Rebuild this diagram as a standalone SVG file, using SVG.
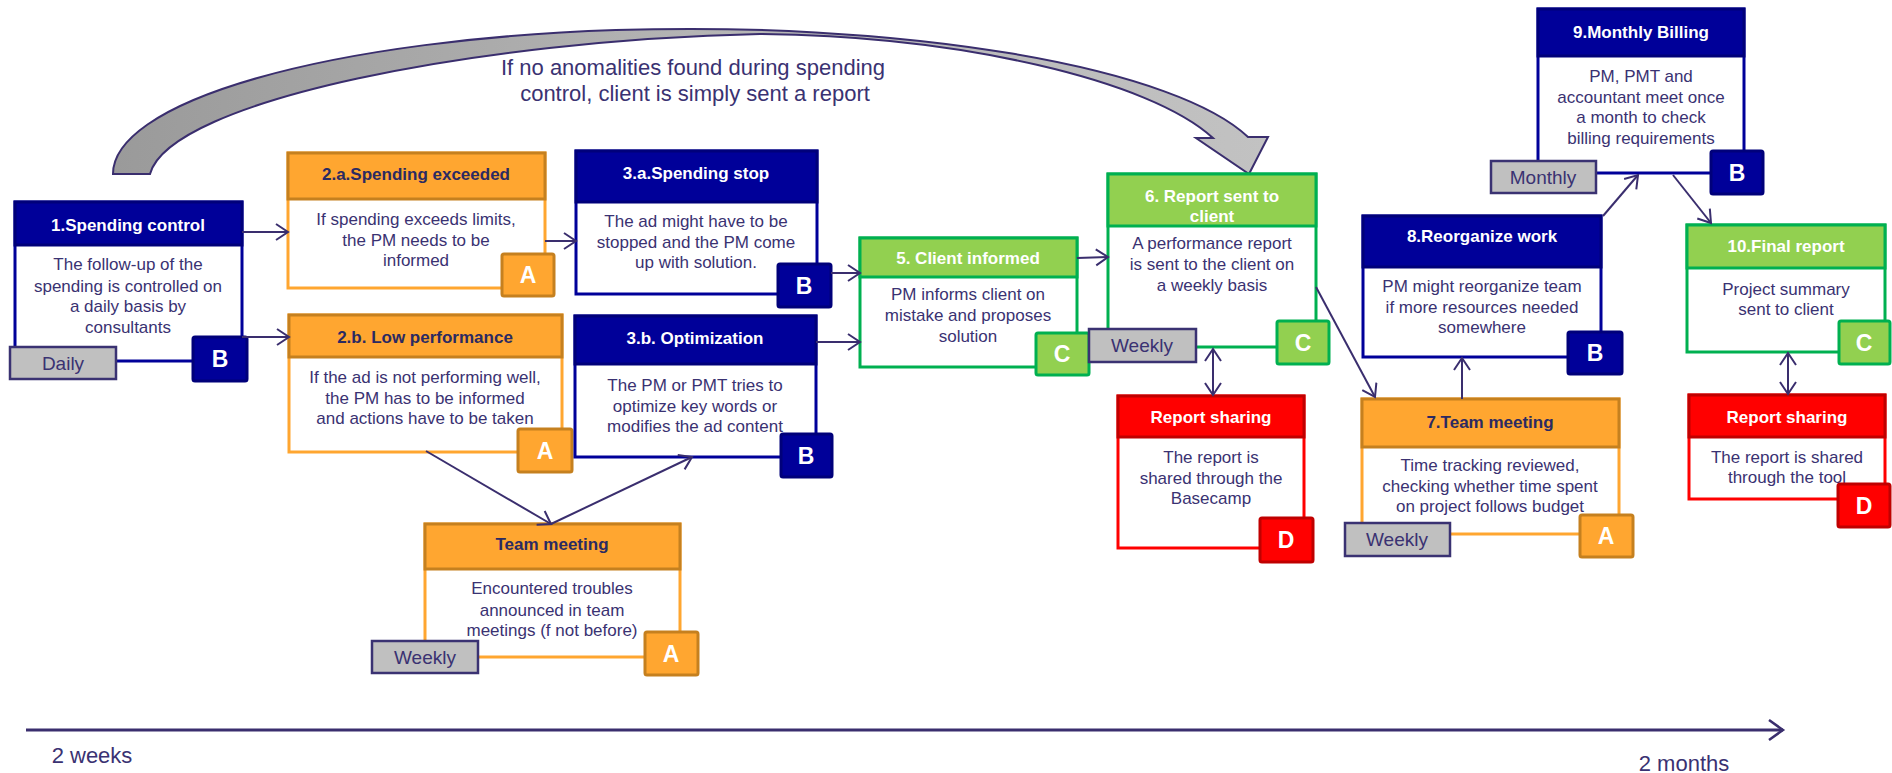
<svg xmlns="http://www.w3.org/2000/svg" width="1892" height="773" viewBox="0 0 1892 773">
  <defs>
    <style>
      text{font-family:"Liberation Sans",Arial,sans-serif;text-anchor:middle}
      .body{fill:#fff;stroke-width:3}
      .hdr{stroke-width:3}
      .t{font-size:17px;fill:#3a3272}
      .h{font-size:17px;font-weight:bold;fill:#fff}
      .bd{stroke-width:3}
      .bl{font-size:23px;font-weight:bold;fill:#fff}
      .fq{fill:#c0c0c0;stroke:#3a3272;stroke-width:2.5}
      .ft{font-size:19px;fill:#3a3272}
      .navy .body{stroke:#000099}
      .navy .hdr,.navy .bd{fill:#000099;stroke:#00007a}
      .orange .body{stroke:#ffa630}
      .orange .hdr,.orange .bd{fill:#ffa630;stroke:#c5801f}
      .orange .h{fill:#2b2a62}
      .green .body{stroke:#00b050}
      .green .hdr,.green .bd{fill:#92d050;stroke:#00b050}
      .red .body{stroke:#ff0000}
      .red .hdr,.red .bd{fill:#ff0000;stroke:#c00000}
      .conn line,.conn path{stroke:#3a2e6e;stroke-width:2;fill:none}
      .lbl{font-size:22px;fill:#3a3272}
    </style>
    <marker id="arr" markerUnits="userSpaceOnUse" markerWidth="16" markerHeight="20" refX="13" refY="9" orient="auto-start-reverse">
      <path d="M1,1 L13,9 L1,17" fill="none" stroke="#3a2e6e" stroke-width="2"/>
    </marker>
    <marker id="arrBig" markerUnits="userSpaceOnUse" markerWidth="18" markerHeight="24" refX="15" refY="11" orient="auto">
      <path d="M1,1 L15,11 L1,21" fill="none" stroke="#3a2e6e" stroke-width="2.5"/>
    </marker>
    <linearGradient id="gArc" x1="0" y1="0" x2="1" y2="0">
      <stop offset="0" stop-color="#9a9a9a"/>
      <stop offset="0.5" stop-color="#b4b4b4"/>
      <stop offset="1" stop-color="#c2c2c2"/>
    </linearGradient>
  </defs>

  <!-- curved bypass arrow from spending control to the client report -->
  <g id="bypass">
    <path d="M113,174 A577,145 0 0 1 1248,137 L1268,137 L1249,174 L1196,138 L1213,138 C1150,80 960,36 760,34 C480,40 170,100 150,174 Z" fill="url(#gArc)" stroke="#3a2e6e" stroke-width="2"/>
    <text class="lbl" x="693" y="75">If no anomalities found during spending</text>
    <text class="lbl" x="695" y="101">control, client is simply sent a report</text>
  </g>

  <!-- 1. Spending control -->
  <g id="n1" class="navy">
    <rect class="body" x="15" y="202" width="227" height="159"/>
    <rect class="hdr" x="15" y="202" width="227" height="43"/>
    <text class="h" x="128" y="231">1.Spending control</text>
    <text class="t" x="128" y="270">The follow-up of the</text>
    <text class="t" x="128" y="292">spending is controlled on</text>
    <text class="t" x="128" y="312">a daily basis by</text>
    <text class="t" x="128" y="333">consultants</text>
    <rect class="fq" x="10" y="347" width="106" height="32"/>
    <text class="ft" x="63" y="370">Daily</text>
    <rect class="bd" x="193" y="337" width="54" height="44" rx="2"/>
    <text class="bl" x="220" y="367">B</text>
  </g>

  <!-- 2.a Spending exceeded -->
  <g id="n2a" class="orange">
    <rect class="body" x="288" y="153" width="257" height="135"/>
    <rect class="hdr" x="288" y="153" width="257" height="46"/>
    <text class="h" x="416" y="180">2.a.Spending exceeded</text>
    <text class="t" x="416" y="225">If spending exceeds limits,</text>
    <text class="t" x="416" y="246">the PM needs to be</text>
    <text class="t" x="416" y="266">informed</text>
    <rect class="bd" x="502" y="254" width="52" height="42" rx="2"/>
    <text class="bl" x="528" y="283">A</text>
  </g>

  <!-- 2.b Low performance -->
  <g id="n2b" class="orange">
    <rect class="body" x="289" y="315" width="273" height="137"/>
    <rect class="hdr" x="289" y="315" width="273" height="42"/>
    <text class="h" x="425" y="343">2.b. Low performance</text>
    <text class="t" x="425" y="383">If the ad is not performing well,</text>
    <text class="t" x="425" y="404">the PM has to be informed</text>
    <text class="t" x="425" y="424">and actions have to be taken</text>
    <rect class="bd" x="518" y="429" width="54" height="43" rx="2"/>
    <text class="bl" x="545" y="459">A</text>
  </g>

  <!-- Team meeting (weekly) -->
  <g id="nTeam1" class="orange">
    <rect class="body" x="425" y="524" width="255" height="133"/>
    <rect class="hdr" x="425" y="524" width="255" height="45"/>
    <text class="h" x="552" y="550">Team meeting</text>
    <text class="t" x="552" y="594">Encountered troubles</text>
    <text class="t" x="552" y="616">announced in team</text>
    <text class="t" x="552" y="636">meetings (f not before)</text>
    <rect class="fq" x="372" y="641" width="106" height="32"/>
    <text class="ft" x="425" y="664">Weekly</text>
    <rect class="bd" x="645" y="632" width="53" height="43" rx="2"/>
    <text class="bl" x="671" y="662">A</text>
  </g>

  <!-- 3.a Spending stop -->
  <g id="n3a" class="navy">
    <rect class="body" x="576" y="151" width="241" height="143"/>
    <rect class="hdr" x="576" y="151" width="241" height="51"/>
    <text class="h" x="696" y="179">3.a.Spending stop</text>
    <text class="t" x="696" y="227">The ad might have to be</text>
    <text class="t" x="696" y="248">stopped and the PM come</text>
    <text class="t" x="696" y="268">up with solution.</text>
    <rect class="bd" x="778" y="264" width="53" height="43" rx="2"/>
    <text class="bl" x="804" y="294">B</text>
  </g>

  <!-- 3.b Optimization -->
  <g id="n3b" class="navy">
    <rect class="body" x="575" y="316" width="241" height="141"/>
    <rect class="hdr" x="575" y="316" width="241" height="48"/>
    <text class="h" x="695" y="344">3.b. Optimization</text>
    <text class="t" x="695" y="391">The PM or PMT tries to</text>
    <text class="t" x="695" y="412">optimize key words or</text>
    <text class="t" x="695" y="432">modifies the ad content</text>
    <rect class="bd" x="781" y="434" width="51" height="43" rx="2"/>
    <text class="bl" x="806" y="464">B</text>
  </g>

  <!-- 5. Client informed -->
  <g id="n5" class="green">
    <rect class="body" x="860" y="238" width="217" height="129"/>
    <rect class="hdr" x="860" y="238" width="217" height="39"/>
    <text class="h" x="968" y="264">5. Client informed</text>
    <text class="t" x="968" y="300">PM informs client on</text>
    <text class="t" x="968" y="321">mistake and proposes</text>
    <text class="t" x="968" y="342">solution</text>
    <rect class="bd" x="1036" y="333" width="53" height="42" rx="2"/>
    <text class="bl" x="1062" y="362">C</text>
  </g>

  <!-- 6. Report sent to client -->
  <g id="n6" class="green">
    <rect class="body" x="1108" y="174" width="208" height="173"/>
    <rect class="hdr" x="1108" y="174" width="208" height="52"/>
    <text class="h" x="1212" y="202">6. Report sent to</text>
    <text class="h" x="1212" y="222">client</text>
    <text class="t" x="1212" y="249">A performance report</text>
    <text class="t" x="1212" y="270">is sent to the client on</text>
    <text class="t" x="1212" y="291">a weekly basis</text>
    <rect class="fq" x="1089" y="329" width="107" height="33"/>
    <text class="ft" x="1142" y="352">Weekly</text>
    <rect class="bd" x="1277" y="321" width="52" height="43" rx="2"/>
    <text class="bl" x="1303" y="351">C</text>
  </g>

  <!-- Report sharing (Basecamp) -->
  <g id="nShare1" class="red">
    <rect class="body" x="1118" y="396" width="186" height="152"/>
    <rect class="hdr" x="1118" y="396" width="186" height="41"/>
    <text class="h" x="1211" y="423">Report sharing</text>
    <text class="t" x="1211" y="463">The report is</text>
    <text class="t" x="1211" y="484">shared through the</text>
    <text class="t" x="1211" y="504">Basecamp</text>
    <rect class="bd" x="1260" y="518" width="53" height="44" rx="2"/>
    <text class="bl" x="1286" y="548">D</text>
  </g>

  <!-- 7. Team meeting -->
  <g id="n7" class="orange">
    <rect class="body" x="1362" y="399" width="257" height="135"/>
    <rect class="hdr" x="1362" y="399" width="257" height="48"/>
    <text class="h" x="1490" y="428">7.Team meeting</text>
    <text class="t" x="1490" y="471">Time tracking reviewed,</text>
    <text class="t" x="1490" y="492">checking whether time spent</text>
    <text class="t" x="1490" y="512">on project follows budget</text>
    <rect class="fq" x="1345" y="523" width="105" height="33"/>
    <text class="ft" x="1397" y="546">Weekly</text>
    <rect class="bd" x="1580" y="515" width="53" height="42" rx="2"/>
    <text class="bl" x="1606" y="544">A</text>
  </g>

  <!-- 8. Reorganize work -->
  <g id="n8" class="navy">
    <rect class="body" x="1363" y="216" width="238" height="141"/>
    <rect class="hdr" x="1363" y="216" width="238" height="51"/>
    <text class="h" x="1482" y="242">8.Reorganize work</text>
    <text class="t" x="1482" y="292">PM might reorganize team</text>
    <text class="t" x="1482" y="313">if more resources needed</text>
    <text class="t" x="1482" y="333">somewhere</text>
    <rect class="bd" x="1568" y="332" width="54" height="42" rx="2"/>
    <text class="bl" x="1595" y="361">B</text>
  </g>

  <!-- 9. Monthly Billing -->
  <g id="n9" class="navy">
    <rect class="body" x="1538" y="9" width="206" height="164"/>
    <rect class="hdr" x="1538" y="9" width="206" height="47"/>
    <text class="h" x="1641" y="38">9.Monthly Billing</text>
    <text class="t" x="1641" y="82">PM, PMT and</text>
    <text class="t" x="1641" y="103">accountant meet once</text>
    <text class="t" x="1641" y="123">a month to check</text>
    <text class="t" x="1641" y="144">billing requirements</text>
    <rect class="fq" x="1491" y="161" width="105" height="32"/>
    <text class="ft" x="1543" y="184">Monthly</text>
    <rect class="bd" x="1711" y="151" width="52" height="43" rx="2"/>
    <text class="bl" x="1737" y="181">B</text>
  </g>

  <!-- 10. Final report -->
  <g id="n10" class="green">
    <rect class="body" x="1687" y="225" width="198" height="127"/>
    <rect class="hdr" x="1687" y="225" width="198" height="43"/>
    <text class="h" x="1786" y="252">10.Final report</text>
    <text class="t" x="1786" y="295">Project summary</text>
    <text class="t" x="1786" y="315">sent to client</text>
    <rect class="bd" x="1839" y="321" width="51" height="43" rx="2"/>
    <text class="bl" x="1864" y="351">C</text>
  </g>

  <!-- Report sharing (tool) -->
  <g id="nShare2" class="red">
    <rect class="body" x="1689" y="395" width="196" height="104"/>
    <rect class="hdr" x="1689" y="395" width="196" height="42"/>
    <text class="h" x="1787" y="423">Report sharing</text>
    <text class="t" x="1787" y="463">The report is shared</text>
    <text class="t" x="1787" y="483">through the tool</text>
    <rect class="bd" x="1838" y="484" width="52" height="43" rx="2"/>
    <text class="bl" x="1864" y="514">D</text>
  </g>

  <!-- connectors -->
  <g id="connectors" class="conn">
    <line x1="242" y1="232" x2="288" y2="232" marker-end="url(#arr)"/>
    <line x1="242" y1="337" x2="289" y2="337" marker-end="url(#arr)"/>
    <line x1="545" y1="241" x2="576" y2="241" marker-end="url(#arr)"/>
    <line x1="426" y1="451" x2="551" y2="524" marker-end="url(#arr)"/>
    <line x1="551" y1="524" x2="692" y2="457" marker-end="url(#arr)"/>
    <line x1="831" y1="273" x2="860" y2="273" marker-end="url(#arr)"/>
    <line x1="816" y1="342" x2="860" y2="342" marker-end="url(#arr)"/>
    <line x1="1077" y1="258" x2="1108" y2="257" marker-end="url(#arr)"/>
    <line x1="1316" y1="287" x2="1375" y2="397" marker-end="url(#arr)"/>
    <line x1="1213" y1="349" x2="1213" y2="395" marker-start="url(#arr)" marker-end="url(#arr)"/>
    <line x1="1462" y1="399" x2="1462" y2="358" marker-end="url(#arr)"/>
    <line x1="1603" y1="216" x2="1638" y2="175" marker-end="url(#arr)"/>
    <line x1="1673" y1="175" x2="1711" y2="223" marker-end="url(#arr)"/>
    <line x1="1788" y1="353" x2="1788" y2="394" marker-start="url(#arr)" marker-end="url(#arr)"/>
  </g>

  <!-- time axis -->
  <g id="timeline">
    <line x1="26" y1="730" x2="1783" y2="730" stroke="#3a2e6e" stroke-width="3" marker-end="url(#arrBig)"/>
    <text class="lbl" x="92" y="763">2 weeks</text>
    <text class="lbl" x="1684" y="771">2 months</text>
  </g>
</svg>
